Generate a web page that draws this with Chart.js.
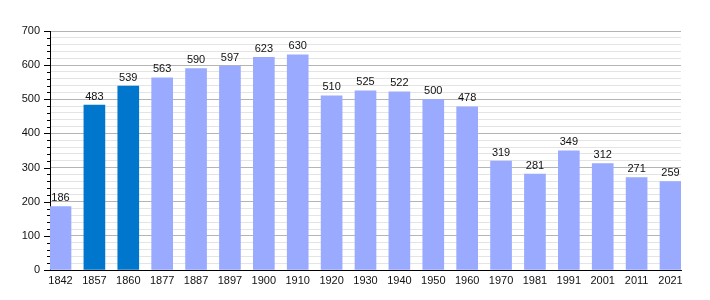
<!DOCTYPE html>
<html>
<head>
<meta charset="utf-8">
<script src="https://cdn.jsdelivr.net/npm/chart.js@4/dist/chart.umd.min.js"></script>
<style>
  html, body { margin: 0; padding: 0; background: #fff; }
  #wrap { width: 710px; height: 300px; }
</style>
</head>
<body>
<div id="wrap"><canvas id="popChart"></canvas></div>
<script>
const years = ['1842', '1857', '1860', '1877', '1887', '1897', '1900', '1910', '1920', '1930',
               '1940', '1950', '1960', '1970', '1981', '1991', '2001', '2011', '2021'];
const population = [186, 483, 539, 563, 590, 597, 623, 630, 510, 525,
                    522, 500, 478, 319, 281, 349, 312, 271, 259];
const highlighted = ['1857', '1860'];
const yTicks = [];
for (let v = 0; v <= 700; v += 20) yTicks.push(v);

const FONT = { family: '"Liberation Sans", Arial, sans-serif', size: 11 };

// tick marks on the y axis: long at hundreds, short in between
const yTickMarks = {
    id: 'yTickMarks',
    afterDraw(chart) {
        const y = chart.scales.y, ctx = chart.ctx, x0 = chart.chartArea.left;
        ctx.save();
        ctx.strokeStyle = '#000';
        ctx.lineWidth = 1;
        y.ticks.forEach(t => {
            const py = Math.round(y.getPixelForValue(t.value)) + 0.5;
            const len = t.value % 100 === 0 ? 6 : 3;
            ctx.beginPath();
            ctx.moveTo(x0 - len, py);
            ctx.lineTo(x0, py);
            ctx.stroke();
        });
        ctx.restore();
    }
};

// value written above each bar
const barValues = {
    id: 'barValues',
    afterDatasetsDraw(chart) {
        const ctx = chart.ctx;
        ctx.save();
        ctx.font = `${FONT.size}px ${FONT.family}`;
        ctx.fillStyle = '#111';
        ctx.textAlign = 'center';
        ctx.textBaseline = 'bottom';
        chart.getDatasetMeta(0).data.forEach((bar, i) => {
            ctx.fillText(population[i], bar.x, bar.y - 3);
        });
        ctx.restore();
    }
};

new Chart(document.getElementById('popChart'), {
    type: 'bar',
    data: {
        datasets: [{
            data: population.map((v, i) => ({ x: i, y: v })),
            backgroundColor: years.map(y => highlighted.includes(y) ? '#0077cc' : '#99aaff'),
            borderWidth: 0,
            barThickness: 21
        }]
    },
    options: {
        responsive: true,
        maintainAspectRatio: false,
        animation: false,
        layout: { padding: { top: 31, right: 29, left: 0, bottom: 0 } },
        plugins: { legend: { display: false }, tooltip: { enabled: false } },
        scales: {
            x: {
                type: 'linear',
                offset: false,
                min: -0.31,
                max: 18.31,
                afterBuildTicks: s => { s.ticks = years.map((_, i) => ({ value: i })); },
                afterFit: s => { s.height = 30; },
                grid: { display: false, drawTicks: false, offset: false },
                border: { color: '#000', width: 1 },
                ticks: {
                    autoSkip: false,
                    maxRotation: 0,
                    padding: 4,
                    color: '#111',
                    font: FONT,
                    callback: v => years[v] ?? ''
                }
            },
            y: {
                min: 0,
                max: 700,
                afterBuildTicks: s => { s.ticks = yTicks.map(v => ({ value: v })); },
                afterFit: s => { s.width = 50; },
                grid: {
                    drawTicks: false,
                    color: c => c.tick && c.tick.value % 100 === 0 ? '#b4b4b4' : '#e4e4e4'
                },
                border: { color: '#000', width: 1 },
                ticks: {
                    autoSkip: false,
                    padding: 10,
                    color: '#111',
                    font: FONT,
                    callback: v => v % 100 === 0 ? v : ''
                }
            }
        }
    },
    plugins: [yTickMarks, barValues]
});
</script>
</body>
</html>
